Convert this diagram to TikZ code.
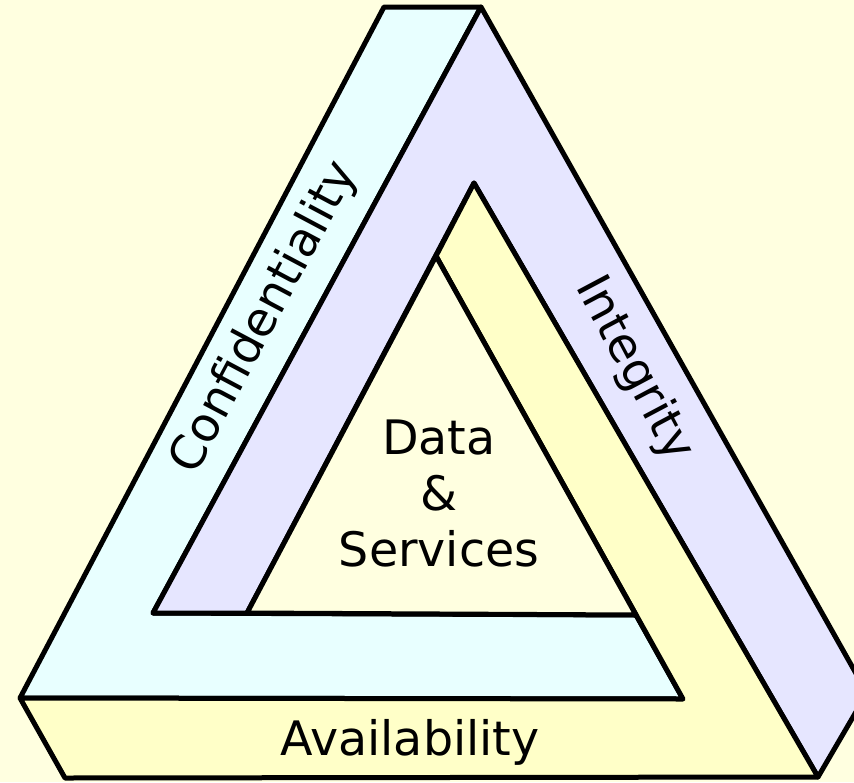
\documentclass[tikz,border=0pt]{standalone}
\usepackage{fontspec}
\setmainfont{DejaVu Sans}
\definecolor{bg_yellow}{HTML}{FFFFE0}
\definecolor{conf_cyan}{HTML}{E8FFFF}
\definecolor{integ_purple}{HTML}{E6E6FF}
\definecolor{avail_yellow}{HTML}{FFFFC8}
\begin{document}
\begin{tikzpicture}[x=1pt,y=-1pt,line width=5pt,line join=round,
    band/.style={draw=black},
    band_label/.style={font=\fontsize{47.5}{56}\selectfont,inner sep=0pt}]
    \useasboundingbox (0,0) rectangle (854,782);
    \fill[bg_yellow] (0,0) rectangle (854,782);
    \clip (0,0) rectangle (854,782);

    % Confidentiality band (left side and inner bottom)
    \filldraw[band,fill=conf_cyan] (384,7) -- (481,7) -- (153,613) -- (636,615)
        -- (683,699) -- (20,698) -- cycle;
    % Integrity band (right side and inner left)
    \filldraw[band,fill=integ_purple] (481,7) -- (867,693) -- (818,777) -- (474,183)
        -- (247,613) -- (153,613) -- cycle;
    % Availability band (bottom and inner right)
    \filldraw[band,fill=avail_yellow] (474,183) -- (818,777) -- (65,778) -- (20,698)
        -- (683,699) -- (436,256) -- cycle;
    % Inner triangle
    \filldraw[band,fill=bg_yellow] (436,256) -- (636,615) -- (247,613) -- cycle;

    % Labels
    \node (conf_label) [band_label,rotate=62] at (265,318) {Confidentiality};
    \node (integ_label) [band_label,rotate=-62] at (634,369) {Integrity};
    \node (avail_label) [band_label,anchor=base] at (410,755) {Availability};
    \node (core_label) [band_label,align=center] at (439,494) {Data\\\&\\Services};
\end{tikzpicture}
\end{document}
